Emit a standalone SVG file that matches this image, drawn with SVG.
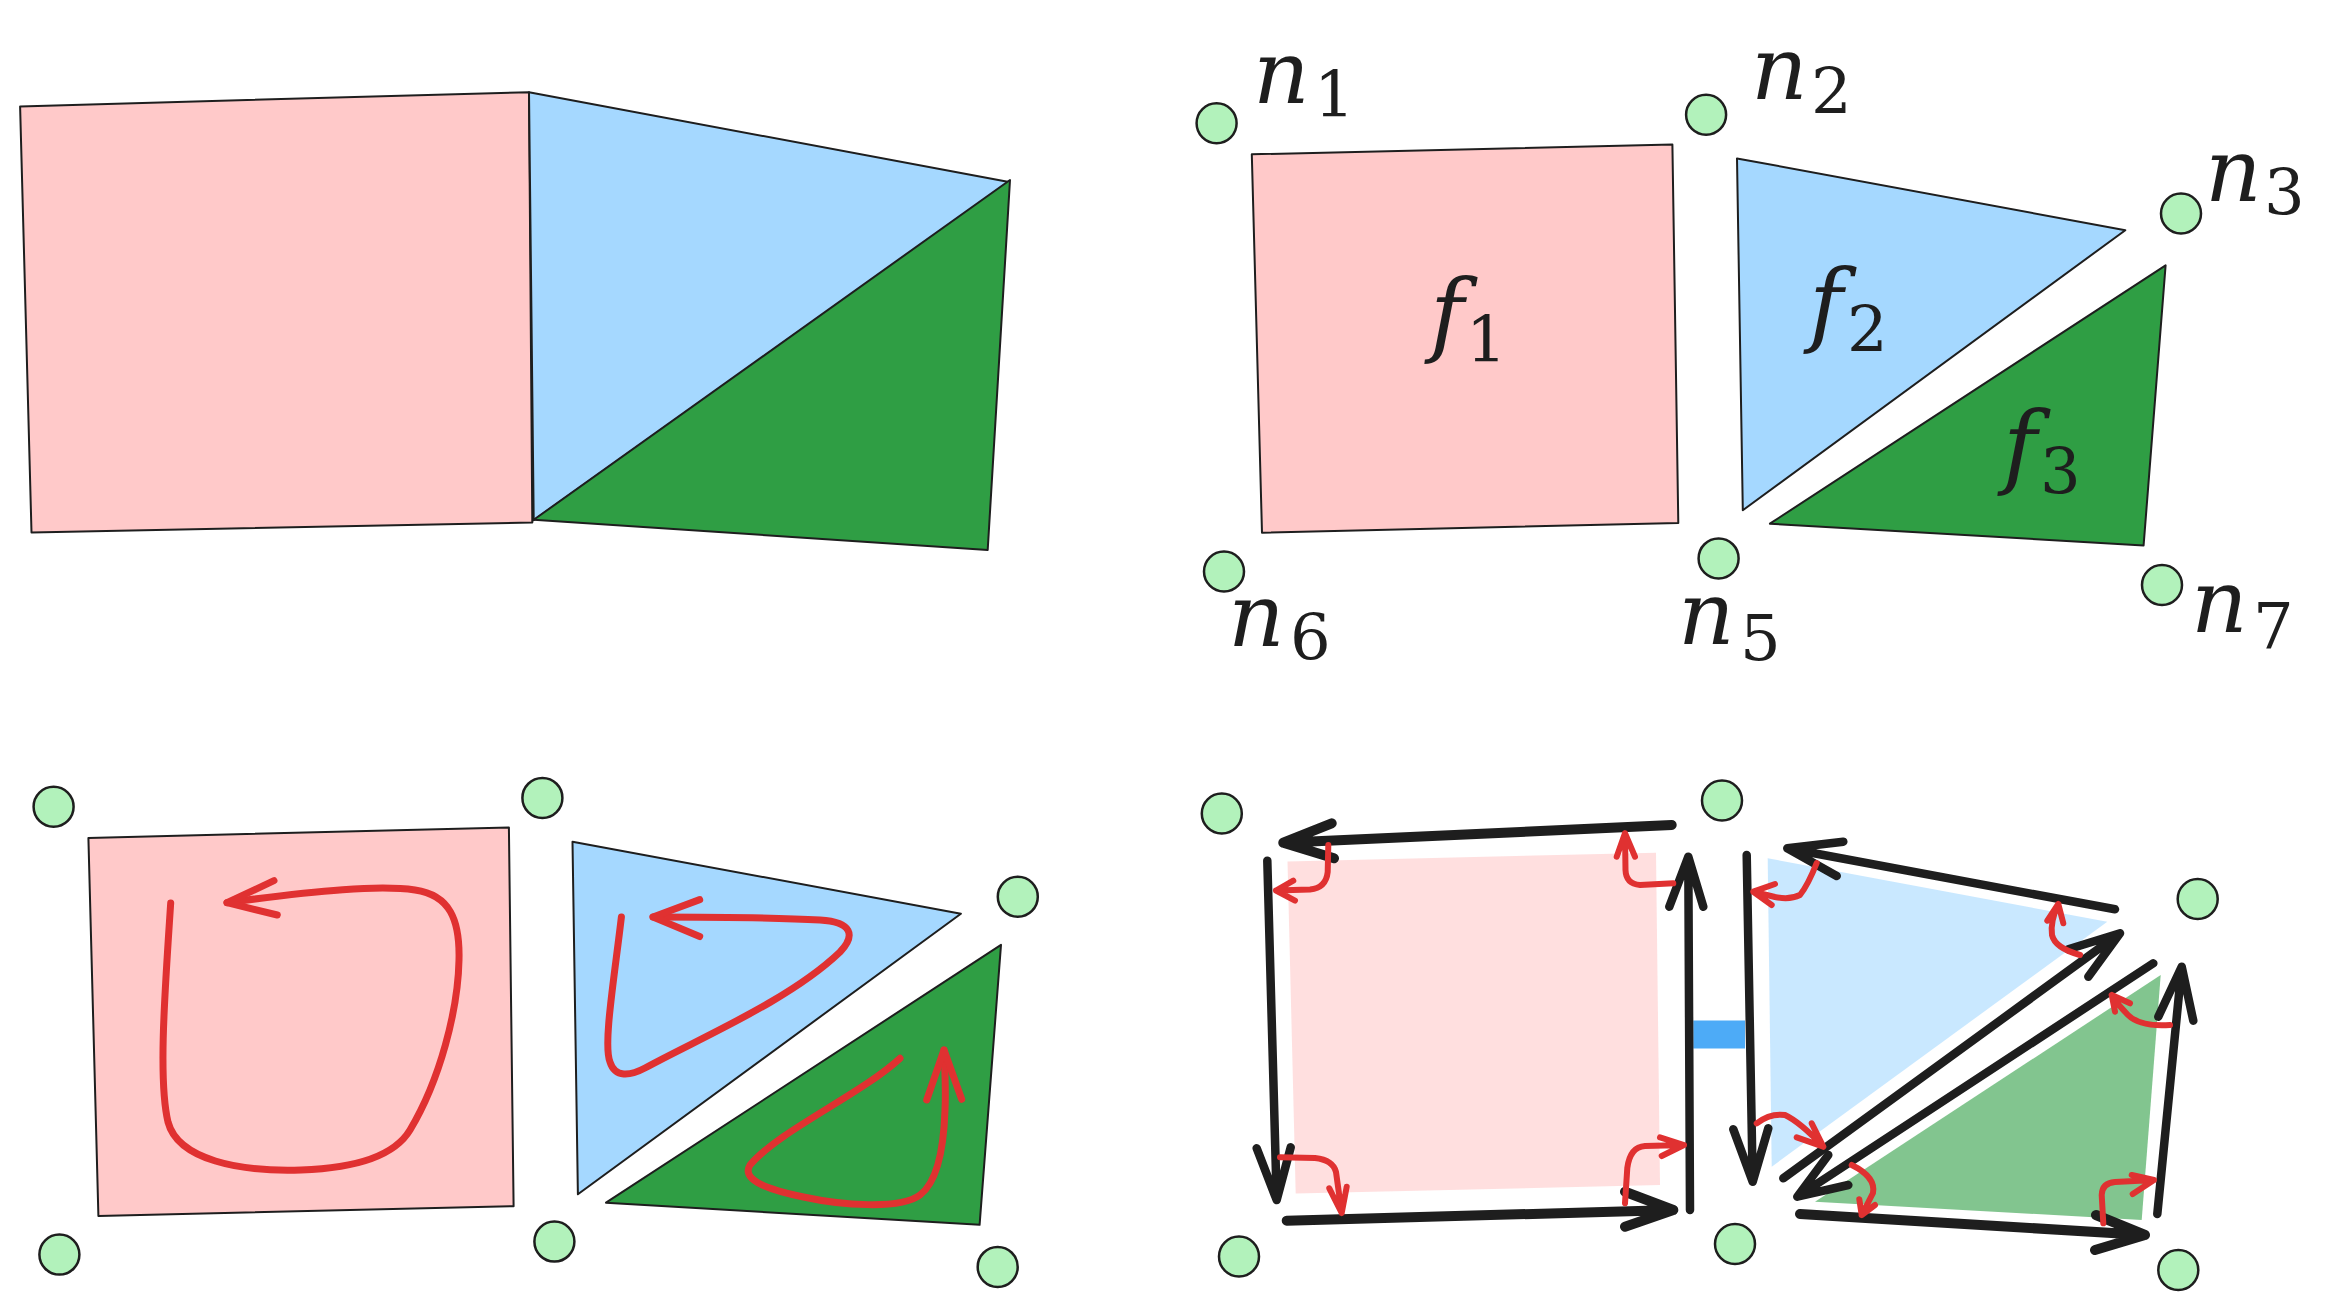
<svg xmlns="http://www.w3.org/2000/svg" width="2329" height="1310" viewBox="0 0 2329 1310">
<style>
.face{stroke:#1e1e1e;stroke-width:2;stroke-linejoin:round}
.pink{fill:#ffc9c9}
.blue{fill:#a5d8ff}
.green{fill:#2f9e44}
.fade{opacity:0.6}
.node{fill:#b2f2bb;stroke:#1e1e1e;stroke-width:2.5}
.lbl{font-family:"DejaVu Serif",serif;font-style:italic;font-size:88px;fill:#1e1e1e}
.lf{font-size:92px}
.sub{font-family:"DejaVu Serif",serif;font-size:64px;fill:#1e1e1e}
.blk{fill:none;stroke:#1e1e1e;stroke-width:8.5;stroke-linecap:round;stroke-linejoin:round}
.blkw{stroke-width:10}
.red{fill:none;stroke:#e03131;stroke-width:6;stroke-linecap:round;stroke-linejoin:round}
.redl{fill:none;stroke:#e03131;stroke-width:7;stroke-linecap:round;stroke-linejoin:round}
</style>
<rect width="2329" height="1310" fill="#ffffff"/>

<!-- Panel 1: mesh -->
<g id="panel1">
<polygon id="p1-f1" class="face pink" points="20.1,106.4 529,92.2 532.3,522.6 31.5,532.5"/>
<polygon id="p1-f2" class="face blue" points="529,92.2 1009,182 533.7,520.3"/>
<polygon id="p1-f3" class="face green" points="1010,180 987.7,550 533.7,519.8"/>
</g>

<!-- Panel 2: faces and nodes with labels -->
<g id="panel2">
<g id="p2-f1"><polygon class="face pink" points="1251.8,154.3 1672.4,144.5 1678.3,522.9 1262,532.7"/>
<text class="lbl lf" x="1430" y="345">f</text><text class="sub" x="1466" y="362">1</text></g>
<g id="p2-f2"><polygon class="face blue" points="1737,158.4 2125.3,230.2 1742.8,510.2"/>
<text class="lbl lf" x="1809" y="335">f</text><text class="sub" x="1847" y="352">2</text></g>
<g id="p2-f3"><polygon class="face green" points="2165.6,265.3 2143.6,545.4 1769.9,523.7"/>
<text class="lbl lf" x="2003" y="477">f</text><text class="sub" x="2040" y="494">3</text></g>
<g id="p2-n1"><circle class="node" cx="1216.6" cy="123.2" r="20"/><text class="lbl" x="1253" y="103">n</text><text class="sub" x="1314" y="117">1</text></g>
<g id="p2-n2"><circle class="node" cx="1706.1" cy="114.7" r="20"/><text class="lbl" x="1751" y="99">n</text><text class="sub" x="1811" y="113.5">2</text></g>
<g id="p2-n3"><circle class="node" cx="2181" cy="213.5" r="20"/><text class="lbl" x="2205" y="201">n</text><text class="sub" x="2264" y="215">3</text></g>
<g id="p2-n6"><circle class="node" cx="1224" cy="571.5" r="20"/><text class="lbl" x="1228" y="646">n</text><text class="sub" x="1290" y="660">6</text></g>
<g id="p2-n5"><circle class="node" cx="1718.6" cy="558.4" r="20"/><text class="lbl" x="1678" y="644">n</text><text class="sub" x="1740" y="660">5</text></g>
<g id="p2-n7"><circle class="node" cx="2162" cy="585" r="20"/><text class="lbl" x="2191" y="632">n</text><text class="sub" x="2253" y="648">7</text></g>
</g>

<!-- Panel 3: face orientations -->
<g id="panel3">
<polygon id="p3-f1" class="face pink" points="88.4,837.9 508.9,827.4 513.6,1206.2 98.4,1216"/>
<polygon id="p3-f2" class="face blue" points="572.5,841.7 960.9,913.7 577.9,1194.3"/>
<polygon id="p3-f3" class="face green" points="1001,944.9 979.6,1224.8 606,1202.7"/>
<circle id="p3-n1" class="node" cx="53.6" cy="806.7" r="20"/>
<circle id="p3-n2" class="node" cx="542.4" cy="797.9" r="20"/>
<circle id="p3-n3" class="node" cx="1017.8" cy="896.8" r="20"/>
<circle id="p3-n6" class="node" cx="59.4" cy="1254.6" r="20"/>
<circle id="p3-n5" class="node" cx="554.4" cy="1241.6" r="20"/>
<circle id="p3-n7" class="node" cx="997.7" cy="1266.9" r="20"/>
<g id="p3-loops">
<path class="redl" d="M170.7,903 C165,990 158,1080 168,1122 C178,1160 240,1172 301,1170 C360,1168 395,1155 410,1130 C440,1080 458,1010 459,960 C460,920 450,895 415,890 C380,885 320,890 227,902.7"/>
<path class="redl" d="M274,880.7 L227,902.7 L277.3,915"/>
<path class="redl" d="M621.4,917 C614,980 603,1045 610,1062 C615,1078 630,1076 645,1068 C700,1038 790,1000 840,952 C856,935 852,922 820,920 C770,917 720,917 653,917"/>
<path class="redl" d="M699.7,899.6 L653,917 L699.7,936.5"/>
<path class="redl" d="M900,1058.3 C860,1095 780,1130 750,1165 C742,1178 760,1188 803.5,1197 C840,1205 900,1210 920,1195 C940,1180 944,1140 945,1110 C946,1090 945,1070 944,1050"/>
<path class="redl" d="M926.7,1100 L944,1050 L961.7,1099.3"/>
</g>
</g>

<!-- Panel 4: half-edges -->
<g id="panel4">
<polygon id="p4-f1" class="pink fade" points="1287.5,861.5 1656,852.7 1660,1185 1295.7,1193.5"/>
<polygon id="p4-f2" class="blue fade" points="1767.7,858.3 2107.3,921.7 1771.7,1166.7"/>
<polygon id="p4-f3" class="green fade" points="2160.7,975 2141.7,1220 1815,1201.7"/>
<rect id="p4-twin" x="1693.3" y="1020.5" width="51.7" height="28" fill="#4dabf7"/>
<circle id="p4-n1" class="node" cx="1221.8" cy="813.5" r="20"/>
<circle id="p4-n2" class="node" cx="1722" cy="800.5" r="20"/>
<circle id="p4-n3" class="node" cx="2197.7" cy="899" r="20"/>
<circle id="p4-n6" class="node" cx="1239" cy="1256.5" r="20"/>
<circle id="p4-n5" class="node" cx="1735" cy="1244" r="20"/>
<circle id="p4-n7" class="node" cx="2178.3" cy="1270" r="20"/>
</g>

<g id="connectors">
<g id="halfedges">
<path class="blk blkw" d="M1671.7,825 L1283.3,842.7 M1331.7,823.3 L1283.3,842.7 L1334,858.3"/>
<path class="blk" d="M1267.3,860.7 L1276.7,1200 M1256.7,1148.3 L1276.7,1200 L1290.7,1147.3"/>
<path class="blk blkw" d="M1286.7,1220.7 L1673.3,1210 M1625,1191.7 L1673.3,1210 L1625,1226.7"/>
<path class="blk" d="M1690,1210 L1688.3,856.7 M1669.3,906.7 L1688.3,856.7 L1703.3,906.7"/>
<path class="blk" d="M1746.7,855 L1752.7,1181.7 M1733.3,1129.3 L1752.7,1181.7 L1768.3,1128.3"/>
<path class="blk" d="M2115,909.3 L1787.3,848.3 M1843.3,841.7 L1787.3,848.3 L1836.7,876"/>
<path class="blk" d="M1783.3,1178.3 L2120,933.3 M2068.3,949.3 L2120,933.3 L2088.3,976.7"/>
<path class="blk" d="M2153.3,963.3 L1797.3,1196.7 M1828.3,1155 L1797.3,1196.7 L1848.3,1185"/>
<path class="blk blkw" d="M1800,1214 L2145,1235 M2096,1215 L2145,1235 L2095,1250"/>
<path class="blk" d="M2157.3,1214 L2181.7,966.7 M2158.3,1016.7 L2181.7,966.7 L2193.3,1020.7"/>
</g>
<g id="next-links">
<path class="red" d="M1328.3,845 L1327.7,872 Q1326,888 1310,889.5 L1276,890.5 M1293.3,880.7 L1276,890.5 L1295,900.7"/>
<path class="red" d="M1280,1157.3 L1315,1158 Q1333,1160 1336,1172 L1341.7,1213 M1329.3,1188.3 L1341.7,1213 L1346.7,1186.7"/>
<path class="red" d="M1625,1203.3 L1627.3,1168 Q1630,1147 1645,1146 L1684,1145 M1660,1137.3 L1684,1145 L1661.7,1156"/>
<path class="red" d="M1673.3,883.3 L1640,885 Q1626,884 1625.5,870 L1625,833.3 M1616.7,856.7 L1625,833.3 L1635,856.7"/>
<path class="red" d="M1816.7,863 Q1808,885 1800,895 Q1790,900 1775,897 L1753.3,891.7 M1775,884 L1753.3,891.7 L1771.7,905"/>
<path class="red" d="M2080,955 Q2055,948 2052,935 Q2050,922 2058.3,904 M2047.3,920.7 L2058.3,904 L2063.3,923.3"/>
<path class="red" d="M1756.7,1123.3 Q1770,1113 1785,1115 Q1800,1122 1823.3,1146.7 M1796.7,1137.3 L1823.3,1146.7 L1811.7,1123.3"/>
<path class="red" d="M2170,1025 Q2140,1027 2128,1015 Q2118,1005 2111.7,995 M2115,1011.7 L2111.7,995 L2130,1003.3"/>
<path class="red" d="M1851.7,1165 Q1876,1177 1873,1193 L1861.7,1215 M1859.3,1199.3 L1861.7,1215 L1875,1205"/>
<path class="red" d="M2103.3,1223.3 L2101.7,1195 Q2102,1183 2115,1182 L2154,1180 M2131.7,1175 L2154,1180 L2132.7,1194"/>
</g>
</g>
</svg>
